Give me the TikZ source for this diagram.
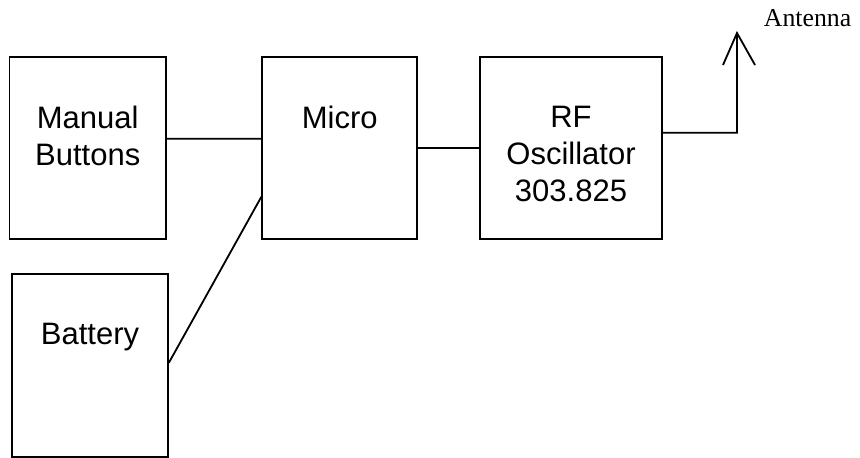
\documentclass[tikz,border=0pt]{standalone}
\usepackage{fontspec}
\setmainfont{Liberation Sans}
\newfontfamily\antfont{Liberation Serif}
\usepackage{tikz}
\usetikzlibrary{positioning}

\begin{document}
\begin{tikzpicture}	[
	x=1pt,y=-1pt,
	line width=1.8pt,
	blk/.style={draw, rectangle, inner sep=0, minimum height=182pt,
		label={[txt]north:#1}},
	txt/.style={anchor=north, yshift=-50.3pt, inner sep=0, align=center,
		line width=0pt, font=\fontsize{31}{36.8}\selectfont}
]
	\useasboundingbox (0,0) rectangle (860,458);

	\path
		(87.75,148) node[blk=Manual\\Buttons, minimum width=156.5pt](man){}
		(339.8,148) node[blk=Micro, minimum width=155pt](micro){}
		(571,148) node[blk=RF\\Oscillator\\303.825, minimum width=182pt](rf){}
		(90,365.5) node[blk=Battery, minimum width=156pt, minimum height=183pt](bat){}
		(737,33) coordinate(ant)
		(763,26) node[anchor=base west, inner sep=0, font=\antfont\fontsize{25.8}{30}\selectfont](anttxt){Antenna}
	;

	\draw
		([yshift=9.3pt]man.east) -- ([yshift=9.3pt]micro.west)
		([yshift=2.8pt]bat.east) -- ([yshift=-48.7pt]micro.west)
		(micro) -- (rf)
		([yshift=15.3pt]rf.east) -| (ant)
		% antenna tip
		(ant) ++(-14,32) -- (ant) -- ++(18,32)
	;
\end{tikzpicture}
\end{document}
